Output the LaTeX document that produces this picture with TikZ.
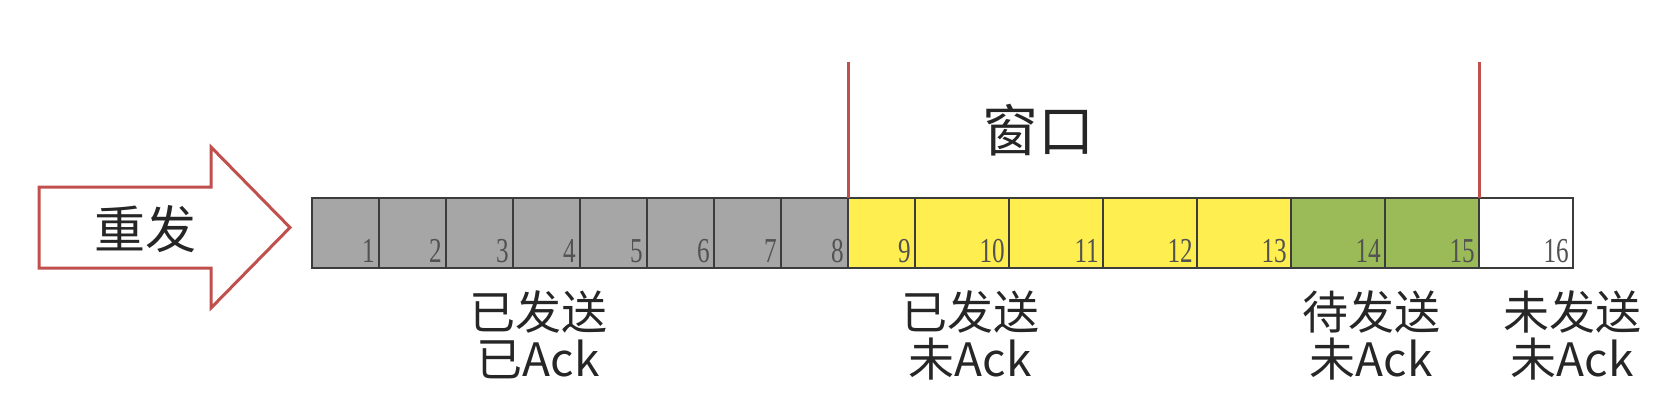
\documentclass[tikz,border=0pt]{standalone}
\usepackage{fontspec}
\usepackage{graphicx}
\newfontfamily\cjk{Noto Sans CJK SC}
\newfontfamily\numfont{Liberation Serif}
\definecolor{cellgray}{HTML}{A6A6A6}
\definecolor{cellyellow}{HTML}{FFEE4F}
\definecolor{cellgreen}{HTML}{9BBB59}
\definecolor{edgegray}{HTML}{3C3C3C}
\definecolor{winred}{HTML}{C0504D}
\tikzset{
  cell/.style={draw=edgegray, line width=1.8pt, minimum height=70pt, inner sep=0pt, outer sep=0pt, anchor=south west},
  num/.style={font=\numfont\fontsize{35}{35}\selectfont, text=black!68, inner sep=0pt, anchor=base east},
  statetext/.style={font=\cjk\fontsize{46}{47}\selectfont, align=center, inner sep=0pt, text=black!85},
  winline/.style={draw=winred, line width=3pt}
}
\begin{document}
\begin{tikzpicture}[x=1pt,y=-1pt]
		\useasboundingbox (0,0) rectangle (1670,412);
		% Resend arrow
		\draw[winred, line width=3pt, line join=miter]
		(39,187) -- (211,187) -- (211,147) -- (290,227.5) -- (211,308) -- (211,268) -- (39,268) -- cycle;
		\node[font=\cjk\fontsize{51}{51}\selectfont, text=black!85] (resend) at (145,229) {重发};
		
		% Cells
		\foreach \i in {1,...,8}
		\node[cell, minimum width=67pt, fill=cellgray] (b\i) at ({312+67*(\i-1)},268) {};
		\node[cell, minimum width=67pt, fill=cellyellow] (b9) at (848,268) {};
		\foreach \i in {10,...,13}
		\node[cell, minimum width=94pt, fill=cellyellow] (b\i) at ({915+94*(\i-10)},268) {};
		\foreach \i in {14,15}
		\node[cell, minimum width=94pt, fill=cellgreen] (b\i) at ({915+94*(\i-10)},268) {};
		\node[cell, minimum width=94pt, fill=white] (b16) at ({915+94*6},268) {};
		% Numbers
		\foreach \i in {1,...,16}
		\node[num] (n\i) at ([xshift=-4pt,yshift=6pt]b\i.south east) {\scalebox{0.72}[1]{\i}};
		
		% Window
		\path (b8.north east) ++(0,-136) coordinate (wl);
		\path (b15.north east) ++(0,-136) coordinate (wr);
		\draw[winline] (b8.north east) -- (wl);
		\draw[winline] (b15.north east) -- (wr);
		\node[font=\cjk\fontsize{56}{56}\selectfont, text=black!85] (win) at (1038,130) {窗口};
		
		% States
		\node[statetext] (acked) at (538,335) {已发送\\已Ack};
		\node[statetext] (sent) at (970,335) {已发送\\未Ack};
		\node[statetext] (ready) at (1371,335) {待发送\\未Ack};
		\node[statetext] (unsent) at (1572,335) {未发送\\未Ack};
\end{tikzpicture}
\end{document}
